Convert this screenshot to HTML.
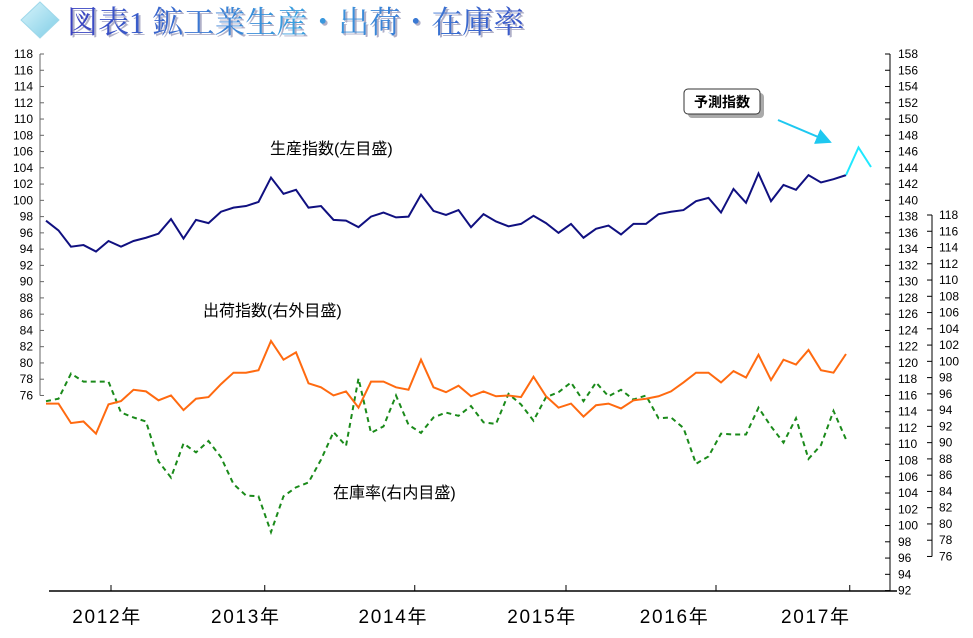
<!DOCTYPE html>
<html><head><meta charset="utf-8">
<style>
body{margin:0;background:#fff;}
svg{display:block;}
.t{font-family:"Liberation Sans",sans-serif;font-size:12px;fill:#000;}
.ann{font-family:"Liberation Sans","Noto Sans CJK JP",sans-serif;font-size:16px;fill:#000;}
</style></head>
<body>
<svg id="chart" width="973" height="638" viewBox="0 0 973 638" xmlns="http://www.w3.org/2000/svg">
<defs>
<linearGradient id="tg" x1="0" y1="0" x2="1" y2="0">
<stop offset="0" stop-color="#3a3fc0"/><stop offset="0.5" stop-color="#3aa0e0"/><stop offset="1" stop-color="#3a56c8"/>
</linearGradient>
<linearGradient id="dg" x1="0" y1="0" x2="1" y2="1">
<stop offset="0" stop-color="#d8f4fb"/><stop offset="1" stop-color="#7fcde6"/>
</linearGradient>
<marker id="ah" markerWidth="8" markerHeight="8" refX="7" refY="4" orient="auto"><path d="M0,0 L8,4 L0,8 z" fill="#1ec8f0"/></marker>
</defs>
<g>
<polygon points="40,2 59,20 40,38 21,20" fill="url(#dg)" stroke="#9fd8ea"/>
<text x="67" y="33" font-family="'Liberation Serif','Noto Serif CJK SC',serif" font-size="31" fill="#b0b0c8" transform="translate(2,2)">図表1 鉱工業生産・出荷・在庫率</text>
<text x="67" y="33" font-family="'Liberation Serif','Noto Serif CJK SC',serif" font-size="31" fill="url(#tg)">図表1 鉱工業生産・出荷・在庫率</text>
</g>
<g id="axes"></g>
<g id="series"></g>
<text class="ann" x="270" y="154">生産指数(左目盛)</text>
<text class="ann" x="203" y="316">出荷指数(右外目盛)</text>
<text class="ann" x="333" y="498">在庫率(右内目盛)</text>
<g>
<rect x="688" y="93" width="76" height="25" rx="4" fill="#aaa"/>
<rect x="684" y="89" width="76" height="25" rx="4" fill="#fff" stroke="#333"/>
<text x="722" y="107" text-anchor="middle" font-family="'Liberation Sans','Noto Sans CJK JP',sans-serif" font-size="14" font-weight="bold">予測指数</text>
<line x1="778" y1="120" x2="830" y2="142" stroke="#1ec8f0" stroke-width="2" marker-end="url(#ah)"/>
</g>
</svg>
<script>
const production=[97.5,96.3,94.3,94.5,93.7,95.0,94.3,95.0,95.4,95.9,97.7,95.3,97.6,97.2,98.6,99.1,99.3,99.8,102.8,100.8,101.3,99.1,99.3,97.6,97.5,96.7,98.0,98.5,97.9,98.0,100.7,98.7,98.2,98.8,96.7,98.3,97.4,96.8,97.1,98.1,97.2,96.0,97.1,95.4,96.5,96.9,95.8,97.1,97.1,98.3,98.6,98.8,99.9,100.3,98.5,101.4,99.7,103.3,99.9,101.9,101.3,103.1,102.2,102.6,103.1];
const forecast=[103.1,106.5,104.1];
const shipments=[115.0,115.0,112.6,112.8,111.3,114.9,115.3,116.7,116.5,115.4,116.0,114.2,115.6,115.8,117.4,118.8,118.8,119.1,122.7,120.4,121.3,117.5,117.0,116.0,116.5,114.5,117.7,117.7,117.0,116.7,120.4,117.0,116.4,117.2,115.9,116.5,115.9,116.0,115.8,118.3,115.9,114.5,115.0,113.4,114.8,115.0,114.4,115.4,115.6,115.9,116.5,117.6,118.8,118.8,117.6,119.0,118.2,121.0,117.9,120.4,119.8,121.6,119.1,118.8,121.1];
const inventory=[95.1,95.4,98.5,97.5,97.5,97.5,93.7,93.1,92.6,87.7,85.7,89.9,88.8,90.2,88.2,84.9,83.5,83.4,79.0,83.4,84.5,85.1,87.9,91.3,89.6,97.9,91.2,92.0,95.8,92.2,91.2,93.1,93.7,93.3,94.5,92.5,92.3,96.0,94.7,92.7,95.6,96.2,97.4,95.1,97.4,95.7,96.5,95.3,95.8,93.0,93.1,91.8,87.4,88.3,91.1,91.0,91.0,94.3,92.0,90.0,93.0,88.0,89.7,93.9,90.4];
const leftTicks=[118,116,114,112,110,108,106,104,102,100,98,96,94,92,90,88,86,84,82,80,78,76];
const outerTicks=[158,156,154,152,150,148,146,144,142,140,138,136,134,132,130,128,126,124,122,120,118,116,114,112,110,108,106,104,102,100,98,96,94,92];
const innerTicks=[118,116,114,112,110,108,106,104,102,100,98,96,94,92,90,88,86,84,82,80,78,76];
const yearLabels=["2012年","2013年","2014年","2015年","2016年","2017年"];
const yearTickIdx=[5.2,17.5,29.5,41.6,53.6,64.3];
const yearLabelIdx=[2.1,13.2,25,36.9,47.5,58.8];

const NS="http://www.w3.org/2000/svg";
const PX=8.13;
const x=i=>46+12.5*i;
const yL=v=>54+(118-v)*PX;
const yO=v=>54+(158-v)*PX;
const yI=v=>215+(118-v)*PX;
function mk(tag,attrs,parent){const e=document.createElementNS(NS,tag);for(const k in attrs)e.setAttribute(k,attrs[k]);parent.appendChild(e);return e;}
const axes=document.getElementById('axes');
const ser=document.getElementById('series');

let a=mk('line',{x1:40,y1:yL(118),x2:40,y2:yL(76),stroke:'#666'},axes);


leftTicks.forEach(v=>{
  mk('line',{x1:40,y1:yL(v),x2:44,y2:yL(v),stroke:'#666'},axes);
  const t=mk('text',{x:33,y:yL(v)+4,'text-anchor':'end',class:'t'},axes);t.textContent=v;
  
  
});
a=mk('line',{x1:890,y1:yO(158),x2:890,y2:yO(92),stroke:'#000'},axes);


outerTicks.forEach(v=>{
  mk('line',{x1:885,y1:yO(v),x2:890,y2:yO(v),stroke:'#000'},axes);
  const t=mk('text',{x:898,y:yO(v)+4,class:'t'},axes);t.textContent=v;
  
  
});
a=mk('line',{x1:932,y1:yI(118),x2:932,y2:yI(76),stroke:'#000'},axes);


innerTicks.forEach(v=>{
  mk('line',{x1:927,y1:yI(v),x2:932,y2:yI(v),stroke:'#000'},axes);
  const t=mk('text',{x:939,y:yI(v)+4,class:'t'},axes);t.textContent=v;
  
  
});
a=mk('line',{x1:49,y1:591,x2:897,y2:591,stroke:'#000','stroke-width':1.5},axes);


yearTickIdx.forEach(i=>{mk('line',{x1:x(i),y1:585,x2:x(i),y2:591,stroke:'#000'},axes);});
yearLabels.forEach((s,k)=>{
  const t=mk('text',{x:x(yearLabelIdx[k]),y:623,'font-family':"'Liberation Sans','Noto Sans CJK JP',sans-serif",'font-size':19,fill:'#000',textLength:68},axes);
  t.textContent=s;
  
  
});
function line(arr,fy,off,attrs,name){
  const p=mk('polyline',Object.assign({points:arr.map((v,i)=>x(i+off)+','+fy(v)).join(' '),fill:'none','stroke-linejoin':'miter'},attrs),ser);
  
  
}
line(inventory,yI,0,{stroke:'#1a8a1a','stroke-width':2,'stroke-dasharray':'5,4'},'inventory-ratio-line');
line(shipments,yO,0,{stroke:'#ff6a10','stroke-width':2},'shipment-index-line');
line(production,yL,0,{stroke:'#101080','stroke-width':2},'production-index-line');
line(forecast,yL,64,{stroke:'#20e8ff','stroke-width':2},'forecast-index-line');
</script>
</body></html>
